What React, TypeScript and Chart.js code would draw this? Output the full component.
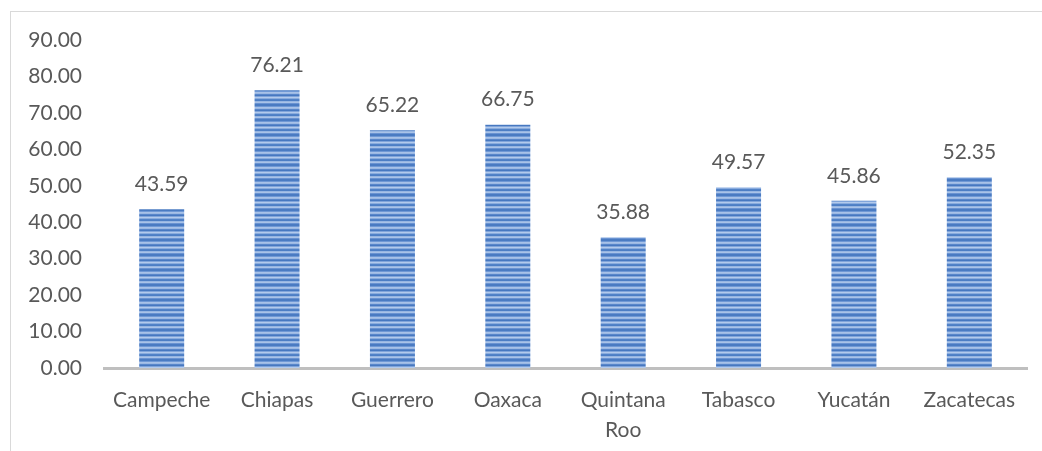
import React, { useEffect, useRef } from "react";
import { Chart, registerables } from "chart.js";

Chart.register(...registerables);

const categories: (string | string[])[] = [
  "Campeche",
  "Chiapas",
  "Guerrero",
  "Oaxaca",
  ["Quintana", "Roo"],
  "Tabasco",
  "Yucatán",
  "Zacatecas",
];
const values = [43.59, 76.21, 65.22, 66.75, 35.88, 49.57, 45.86, 52.35];
const yMin = 0;
const yMax = 90;
const yStep = 10;

const FONT = "Lato, 'Open Sans', sans-serif";
const TEXT = "#595959";

function makePattern(ctx: CanvasRenderingContext2D) {
  const rows = [
    "#4a7bc2", "#6f98d5", "#a8c2e8", "#9bb8e3", "#5a87ca",
    "#4778c0", "#80a4da", "#b2caec", "#8aacde", "#5283c8",
    "#4d7ec4", "#96b5e2", "#a9c3e8", "#6a93d2", "#4a7bc2",
  ];
  const c = document.createElement("canvas");
  c.width = 4;
  c.height = rows.length;
  const g = c.getContext("2d")!;
  rows.forEach((col, i) => {
    g.fillStyle = col;
    g.fillRect(0, i, 4, 1);
  });
  return ctx.createPattern(c, "repeat")!;
}

const valueLabels = {
  id: "valueLabels",
  afterDatasetsDraw(chart: any) {
    const ctx = chart.ctx;
    const meta = chart.getDatasetMeta(0);
    ctx.save();
    ctx.font = `21px ${FONT}`;
    ctx.fillStyle = TEXT;
    ctx.textAlign = "center";
    ctx.textBaseline = "middle";
    meta.data.forEach((bar: any, i: number) => {
      ctx.fillText(values[i].toFixed(2), bar.x, bar.y - 25);
    });
    ctx.restore();
  },
};

export default function App() {
  const ref = useRef<HTMLCanvasElement>(null);
  useEffect(() => {
    const canvas = ref.current!;
    const ctx = canvas.getContext("2d")!;
    const pattern = makePattern(ctx);
    const chart = new Chart(ctx, {
      type: "bar",
      data: {
        labels: categories as any,
        datasets: [
          {
            data: values,
            backgroundColor: pattern as any,
            borderWidth: 0,
            barPercentage: 0.39,
            categoryPercentage: 1,
          },
        ],
      },
      options: {
        animation: false,
        responsive: false,
        maintainAspectRatio: false,
        layout: { padding: { left: 10, right: 15, top: 40, bottom: 0 } },
        plugins: { legend: { display: false }, tooltip: { enabled: false } },
        scales: {
          x: {
            grid: { display: false, drawTicks: false },
            border: { display: true, color: "#bfbfbf", width: 3 },
            ticks: {
              color: TEXT,
              font: { family: FONT, size: 21, lineHeight: 1.43 },
              padding: 17,
              maxRotation: 0,
              autoSkip: false,
            },
            afterFit: (scale: any) => {
              scale.height = 83;
            },
          },
          y: {
            min: yMin,
            max: yMax,
            grid: { display: false, drawTicks: false },
            border: { display: false },
            ticks: {
              stepSize: yStep,
              color: TEXT,
              font: { family: FONT, size: 21 },
              padding: 22,
              callback: (v: any) => Number(v).toFixed(2),
            },
            afterFit: (scale: any) => {
              scale.width = 94;
            },
          },
        },
      },
      plugins: [valueLabels],
    });
    return () => chart.destroy();
  }, []);
  return (
    <div style={{ position: "absolute", left: 0, top: 0, width: 1042, height: 451, background: "#fff", overflow: "hidden" }}>
      <div
        style={{
          position: "absolute",
          left: 10,
          top: 11,
          width: 1100,
          height: 500,
          border: "1px solid #d9d9d9",
        }}
      />
      <canvas ref={ref} width={1042} height={451} style={{ position: "absolute", left: 0, top: 0 }} />
    </div>
  );
}
